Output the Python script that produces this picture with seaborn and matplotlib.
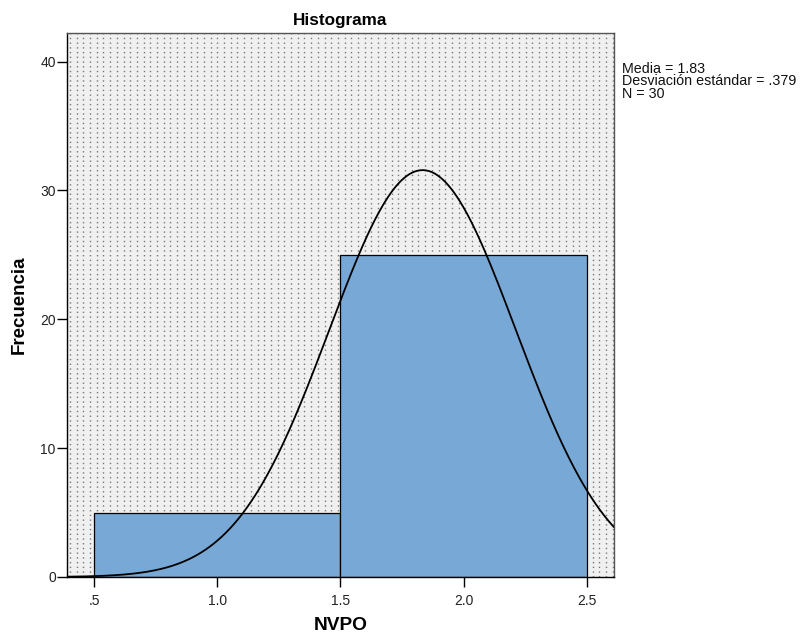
import numpy as np
import pandas as pd
import matplotlib
matplotlib.use("Agg")
import matplotlib.pyplot as plt
import seaborn as sns

# valores de NVPO y cuantas veces aparece cada uno
nvpo_values = [1, 2]
nvpo_counts = [5, 25]
bin_edges = [0.5, 1.5, 2.5]
x_ticks = [0.5, 1.0, 1.5, 2.0, 2.5]
x_tick_labels = [".5", "1.0", "1.5", "2.0", "2.5"]
y_ticks = [0, 10, 20, 30, 40]

sns.set_style("white")
plt.rcParams['font.family'] = ['Liberation Sans', 'DejaVu Sans']
plt.rcParams['text.color'] = 'black'
plt.rcParams['axes.labelcolor'] = 'black'

df = pd.DataFrame({"NVPO": np.repeat(nvpo_values, nvpo_counts)})

fig = plt.figure(figsize=(8.02, 6.36), dpi=100)
ax = fig.add_axes([0.0835, 0.0928, 0.682, 0.855])
ax.set_facecolor("#f0f0f0")

xmin, xmax = 0.39, 2.61
# fondo punteado estilo SPSS
for xv in np.arange(xmin + 0.012, xmax, 0.0272):
    ax.axvline(xv, color="#777777", lw=1.0, ls=(0, (1, 2.4)), zorder=0)

sns.histplot(data=df, x="NVPO", bins=bin_edges, color="#77a8d6", alpha=1,
             edgecolor="black", linewidth=0.9, ax=ax, zorder=2)

mean = df["NVPO"].mean()
sd = df["NVPO"].std()
n = len(df)
width = bin_edges[1] - bin_edges[0]
xs = np.linspace(xmin, xmax, 400)
ys = n * width / (sd * np.sqrt(2 * np.pi)) * np.exp(-0.5 * ((xs - mean) / sd) ** 2)
ax.plot(xs, ys, color="black", lw=1.3, zorder=3)

ax.set_xlim(xmin, xmax)
ax.set_ylim(0, 42.2)
ax.set_xticks(x_ticks)
ax.set_xticklabels(x_tick_labels)
ax.set_yticks(y_ticks)
ax.tick_params(axis="both", which="major", bottom=True, left=True, direction="out",
               length=7, width=1, labelsize=10, color="black", labelcolor="#222222", pad=1)
ax.tick_params(axis="x", pad=5)
for s in ["left", "bottom"]:
    ax.spines[s].set_color("black")
    ax.spines[s].set_linewidth(1)
for s in ["top", "right"]:
    ax.spines[s].set_color("#555555")
    ax.spines[s].set_linewidth(1)

ax.set_title("Histograma", fontsize=12.3, fontweight="bold", pad=6)
ax.set_xlabel("NVPO", fontsize=13.8, fontweight="bold", labelpad=7)
ax.set_ylabel("Frecuencia", fontsize=13.5, fontweight="bold", labelpad=9)

fig.text(0.776, 0.903, "Media = %.2f\nDesviación estándar = %s\nN = %d" % (mean, ("%.3f" % sd).lstrip("0"), n),
         fontsize=10.3, va="top", ha="left", linespacing=0.88, color="#111111")

fig.savefig("out.png", dpi=100)
